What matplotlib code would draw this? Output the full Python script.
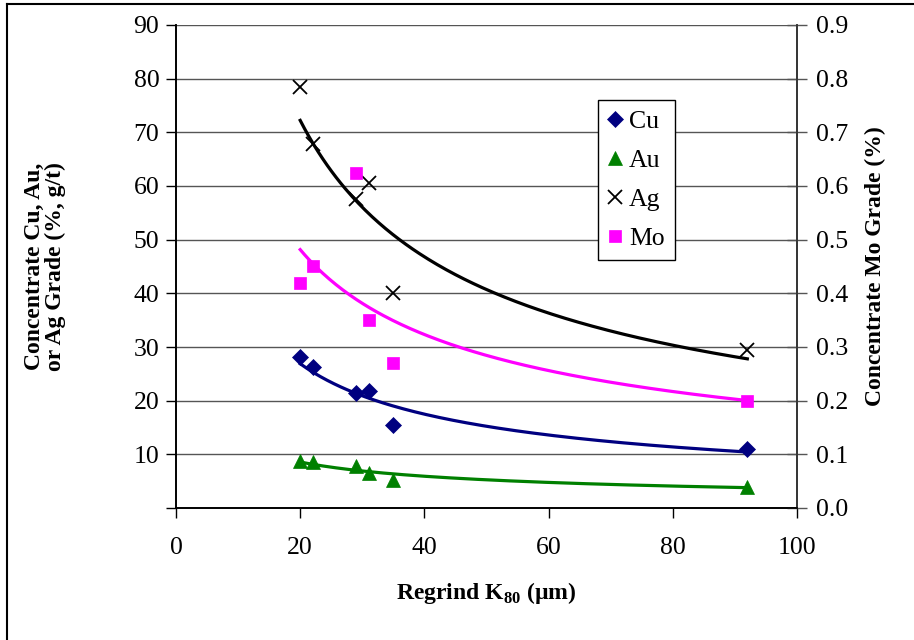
import numpy as np
import matplotlib.pyplot as plt
from matplotlib.lines import Line2D

plt.rcParams['font.family'] = ['Liberation Serif', 'DejaVu Serif']
plt.rcParams['mathtext.fontset'] = 'custom'
plt.rcParams['mathtext.rm'] = 'Liberation Serif'
plt.rcParams['mathtext.bf'] = 'Liberation Serif:bold'

# regrind K80 (um) for each test
k80 = [20, 22, 29, 31, 35, 92]

# concentrate grades
cu = [28.2, 26.2, 21.5, 21.8, 15.5, 11.0]   # %
au = [8.8, 8.5, 7.8, 6.6, 5.2, 4.0]         # g/t
ag = [78.5, 67.8, 57.5, 60.5, 40.0, 29.5]   # g/t
mo = [0.42, 0.45, 0.625, 0.35, 0.27, 0.20]  # % (right axis)

left_ticks = [0, 10, 20, 30, 40, 50, 60, 70, 80, 90]
right_ticks = [0.0, 0.1, 0.2, 0.3, 0.4, 0.5, 0.6, 0.7, 0.8, 0.9]
x_ticks = [0, 20, 40, 60, 80, 100]

FS = 18.5   # tick labels / legend
LFS = 17    # axis titles


def power_fit(x, y):
    # excel style power trendline y = a*x^b
    b, loga = np.polyfit(np.log(x), np.log(y), 1)
    xs = np.linspace(min(x), max(x), 200)
    return xs, np.exp(loga) * xs**b


fig = plt.figure(figsize=(9.14, 6.4), dpi=100)
ax = fig.add_axes([176/914, 1 - 508/640, 621/914, 483/640])
ax2 = ax.twinx()

# gridlines
for t in left_ticks[1:]:
    ax.axhline(t, color='#555555', lw=1.0, zorder=1)

series = [
    (cu, '#000080', 'D', 8, 'Cu'),
    (au, '#008000', '^', 9.5, 'Au'),
    (ag, 'black', 'x', 10, 'Ag'),
]
handles = []
for y, col, mk, ms, lab in series:
    xs, ys = power_fit(k80, y)
    ax.plot(xs, ys, color=col, lw=2.3, zorder=3)
    h, = ax.plot(k80, y, ls='none', marker=mk, color=col, ms=ms,
                 mew=1.3 if mk == 'x' else 0.5, zorder=4, label=lab,
                 clip_on=False)
    handles.append(h)

xs, ys = power_fit(k80, mo)
ax2.plot(xs, ys, color='#FF00FF', lw=2.3, zorder=3)
h, = ax2.plot(k80, mo, ls='none', marker='s', color='#FF00FF', ms=8,
              mew=0.5, zorder=4, label='Mo', clip_on=False)
handles.append(h)

ax.set_xlim(0, 100)
ax.set_ylim(0, 90)
ax2.set_ylim(0, 0.9)

ax.set_xticks(x_ticks)
ax.set_xticklabels([str(v) for v in x_ticks], fontsize=FS)
ax.set_yticks(left_ticks)
ax.set_yticklabels([''] + [str(v) for v in left_ticks[1:]], fontsize=FS)
ax2.set_yticks(right_ticks)
ax2.set_yticklabels(['%.1f' % v for v in right_ticks], fontsize=FS)

ax.tick_params(axis='y', direction='out', length=7, width=1, pad=5)
ax.tick_params(axis='x', direction='out', length=7, width=1, pad=14)
ax2.tick_params(axis='y', direction='inout', length=14, width=1,
                color='#555555', pad=7)

for a in (ax, ax2):
    a.spines['top'].set_visible(False)
    a.spines['left'].set_linewidth(1.2)
    a.spines['bottom'].set_linewidth(1.2)
    a.spines['right'].set_linewidth(1.2)
    a.spines['right'].set_color('#333333')

ax.set_xlabel(r'Regrind K$_{\mathbf{80}}$ (µm)', fontsize=LFS, fontweight='bold')
ax.xaxis.set_label_coords(0.5, -0.15)
ax.set_ylabel('Concentrate Cu, Au,\nor Ag Grade (%, g/t)', fontsize=LFS,
              fontweight='bold', linespacing=1.0)
ax.yaxis.set_label_coords(-0.177, 0.5)
ax2.set_ylabel('Concentrate Mo Grade (%)', fontsize=LFS, fontweight='bold')
ax2.yaxis.set_label_coords(1.109, 0.5)

leg = ax2.legend(handles=handles, loc='upper left',
                 bbox_to_anchor=(0.680, 0.845), fontsize=FS, frameon=True,
                 fancybox=False, edgecolor='black', framealpha=1,
                 handlelength=0.5, handletextpad=0.3, labelspacing=0.62,
                 borderpad=0.4, borderaxespad=0)
leg.get_frame().set_linewidth(1.0)

# outer frame (left and top edges only are visible in the crop)
fig.add_artist(Line2D([7/914, 7/914], [0, 1 - 4/640], color='black',
                      lw=1.5, transform=fig.transFigure))
fig.add_artist(Line2D([7/914, 1], [1 - 4/640, 1 - 4/640], color='black',
                      lw=1.5, transform=fig.transFigure))

fig.savefig('out.png', dpi=100)
